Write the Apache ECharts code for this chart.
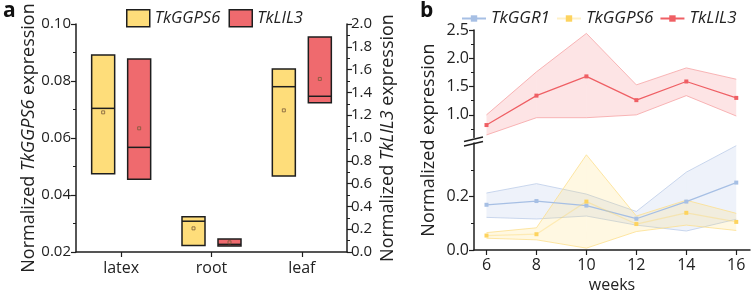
<!DOCTYPE html>
<html>
<head>
<meta charset="utf-8">
<script src="https://cdn.jsdelivr.net/npm/echarts@6/dist/echarts.min.js"></script>
<style>
  html, body { margin: 0; padding: 0; background: #fff; }
  #main { width: 752px; height: 294px; }
</style>
</head>
<body>
<div id="main"></div>
<script>
// ---- panel a : boxes (q1, median, q3, mean) ----
const tissues = ['latex', 'root', 'leaf'];
const ggps6Box = [
  [0.0475, 0.0704, 0.0891, 0.0690],
  [0.0223, 0.0308, 0.0324, 0.0283],
  [0.0467, 0.0780, 0.0842, 0.0697]
];
const lil3Box = [
  [0.638, 0.918, 1.693, 1.085],
  [0.053, 0.067, 0.114, 0.085],
  [1.310, 1.366, 1.886, 1.518]
];

// ---- panel b : time course ----
const weeks = [6, 8, 10, 12, 14, 16];
const ggr1Mean = [0.169, 0.183, 0.166, 0.117, 0.181, 0.252];
const ggr1Low = [0.122, 0.116, 0.127, 0.093, 0.071, 0.115];
const ggr1High = [0.213, 0.248, 0.209, 0.144, 0.291, 0.390];
const ggps6Mean = [0.054, 0.059, 0.181, 0.097, 0.139, 0.105];
const ggps6Low = [0.044, 0.038, 0.007, 0.069, 0.093, 0.073];
const ggps6High = [0.065, 0.083, 0.356, 0.127, 0.186, 0.137];
const lil3Mean = [0.82, 1.34, 1.68, 1.26, 1.59, 1.30];
const lil3Low = [0.645, 0.95, 0.95, 1.00, 1.34, 0.98];
const lil3High = [1.00, 1.76, 2.44, 1.53, 1.83, 1.63];

const FONT = '"Open Sans", "DejaVu Sans", sans-serif';
const INK = '#1e1e1e';

const chart = echarts.init(document.getElementById('main'));

// box drawn through the axis scale
function boxRender(offset, fill) {
  return function (params, api) {
    const i = api.value(0);
    const lo = api.coord([i, api.value(1)]);
    const med = api.coord([i, api.value(2)]);
    const hi = api.coord([i, api.value(3)]);
    const mean = api.coord([i, api.value(4)]);
    const w = 23;
    const x = lo[0] + offset - w / 2;
    return {
      type: 'group',
      children: [
        { type: 'rect', shape: { x: x, y: hi[1], width: w, height: lo[1] - hi[1] },
          style: { fill: fill, stroke: INK, lineWidth: 1.5 } },
        { type: 'line', shape: { x1: x, y1: med[1], x2: x + w, y2: med[1] },
          style: { stroke: INK, lineWidth: 1.5 } },
        { type: 'rect', shape: { x: lo[0] + offset - 1.5, y: mean[1] - 1.5, width: 3, height: 3 },
          style: { fill: 'none', stroke: '#7a5a3a', lineWidth: 0.8 } }
      ]
    };
  };
}

// one band segment between two neighbouring weeks
function bandRender(edge, fill) {
  return function (params, api) {
    const a0 = api.coord([api.value(0), api.value(1)]);
    const b0 = api.coord([api.value(0), api.value(2)]);
    const a1 = api.coord([api.value(3), api.value(4)]);
    const b1 = api.coord([api.value(3), api.value(5)]);
    return {
      type: 'group',
      children: [
        { type: 'polygon', shape: { points: [a0, a1, b1, b0] }, style: { fill: fill } },
        { type: 'line', shape: { x1: a0[0], y1: a0[1], x2: a1[0], y2: a1[1] },
          style: { stroke: edge, lineWidth: 0.8 } },
        { type: 'line', shape: { x1: b0[0], y1: b0[1], x2: b1[0], y2: b1[1] },
          style: { stroke: edge, lineWidth: 0.8 } }
      ]
    };
  };
}

const pair = (ys) => weeks.map((w, i) => [w, ys[i]]);
const segments = (low, high) => weeks.slice(0, -1).map((w, i) =>
  [w, low[i], high[i], weeks[i + 1], low[i + 1], high[i + 1]]);

function bandSeries(name, low, high, mean, xi, yi, line, edge, fill, lineOpacity) {
  return [
    { name: name + ' band', type: 'custom', xAxisIndex: xi, yAxisIndex: yi, silent: true,
      renderItem: bandRender(edge, fill), encode: { x: [0, 3], y: [1, 2, 4, 5] },
      data: segments(low, high), z: 2 },
    { name: name, type: 'line', xAxisIndex: xi, yAxisIndex: yi,
      data: pair(mean), symbol: 'rect', symbolSize: 4,
      itemStyle: { color: line },
      lineStyle: { color: line, width: 1.2, opacity: lineOpacity }, z: 5 }
  ];
}

const axisLine = { show: true, lineStyle: { color: INK, width: 1.5 } };
const tick = { show: true, length: 5, lineStyle: { color: INK, width: 1.2 } };
const minor = { show: true, splitNumber: 2, length: 3, lineStyle: { color: INK, width: 1 } };
const lab = { fontFamily: FONT, fontSize: 15, color: '#222' };
const nameStyle = { fontFamily: FONT, fontSize: 18, color: '#222',
  rich: { i: { fontFamily: FONT, fontSize: 18, fontStyle: 'italic', color: '#222' } } };

const option = {
  animation: false,
  backgroundColor: '#fff',
  graphic: [
    { type: 'text', left: 3, top: 1, style: { text: 'a', font: 'bold 21px ' + FONT, fill: '#111' } },
    { type: 'text', left: 420, top: 1, style: { text: 'b', font: 'bold 21px ' + FONT, fill: '#111' } },
    { type: 'text', x: 429, y: 140, rotation: Math.PI / 2,
      style: { text: 'Normalized expression', font: '18px ' + FONT, fill: '#222',
               textAlign: 'center', textVerticalAlign: 'middle' } },
    // axis break marks
    { type: 'line', shape: { x1: 464, y1: 141.5, x2: 483, y2: 137 }, style: { stroke: INK, lineWidth: 1.3 } },
    { type: 'line', shape: { x1: 464, y1: 146, x2: 483, y2: 141.5 }, style: { stroke: INK, lineWidth: 1.3 } }
  ],
  legend: [
    {
      left: 121, top: 4, itemWidth: 23, itemHeight: 17, itemGap: 4,
      textStyle: { fontFamily: FONT, fontSize: 16.5, fontStyle: 'italic', color: '#222' },
      data: [
        { name: 'TkGGPS6 ', icon: 'rect', itemStyle: { color: '#fedd7a', borderColor: INK, borderWidth: 1.5 } },
        { name: 'TkLIL3 ', icon: 'rect', itemStyle: { color: '#ef6a6e', borderColor: INK, borderWidth: 1.5 } }
      ]
    },
    {
      left: 456, top: 5, itemWidth: 24, itemHeight: 8, itemGap: 6,
      textStyle: { fontFamily: FONT, fontSize: 17, fontStyle: 'italic', color: '#222' },
      data: ['TkGGR1', 'TkGGPS6', 'TkLIL3']
    }
  ],
  grid: [
    { left: 76, top: 24, width: 271, height: 228 },
    { left: 474, top: 30, width: 276, height: 107.5 },
    { left: 474, top: 143, width: 276, height: 109 }
  ],
  xAxis: [
    { type: 'category', gridIndex: 0, data: tissues, boundaryGap: true,
      axisLine: axisLine, axisTick: Object.assign({}, tick, { alignWithLabel: true }),
      axisLabel: Object.assign({}, lab, { fontSize: 16, margin: 8 }) },
    { type: 'value', gridIndex: 1, min: 5.5, max: 16.55, show: false },
    { type: 'value', gridIndex: 2, min: 5.5, max: 16.55,
      axisLine: axisLine, splitLine: { show: false },
      axisTick: Object.assign({}, tick, { customValues: weeks }),
      axisLabel: Object.assign({}, lab, { fontSize: 16, margin: 7, customValues: weeks }),
      name: 'weeks', nameLocation: 'middle', nameGap: 27,
      nameTextStyle: { fontFamily: FONT, fontSize: 16, color: '#222' } }
  ],
  yAxis: [
    { type: 'value', gridIndex: 0, position: 'left', min: 0.02, max: 0.10, interval: 0.02,
      axisLine: axisLine, axisTick: tick, minorTick: minor, splitLine: { show: false },
      axisLabel: Object.assign({}, lab, { margin: 5, formatter: (v) => v.toFixed(2) }),
      name: 'Normalized {i|TkGGPS6} expression', nameLocation: 'middle', nameGap: 38,
      nameTextStyle: nameStyle },
    { type: 'value', gridIndex: 0, position: 'right', min: 0, max: 2.0, interval: 0.2,
      axisLine: axisLine, axisTick: tick, minorTick: minor, splitLine: { show: false },
      axisLabel: Object.assign({}, lab, { margin: 4, formatter: (v) => v.toFixed(1) }),
      name: 'Normalized {i|TkLIL3} expression', nameLocation: 'middle', nameGap: 32,
      nameTextStyle: nameStyle },
    { type: 'value', gridIndex: 1, position: 'left', min: 0.6, max: 2.5,
      axisLine: axisLine, splitLine: { show: false },
      axisTick: Object.assign({}, tick, { customValues: [1.0, 1.5, 2.0, 2.5] }),
      axisLabel: Object.assign({}, lab, { fontSize: 16, margin: 5, customValues: [1.0, 1.5, 2.0, 2.5],
        formatter: (v) => v.toFixed(1) }) },
    { type: 'value', gridIndex: 1, position: 'left', min: 0.6, max: 2.5,
      axisLine: { show: false }, splitLine: { show: false }, axisLabel: { show: false },
      axisTick: { show: true, length: 3, lineStyle: { color: INK, width: 1 },
        customValues: [0.75, 1.25, 1.75, 2.25] } },
    { type: 'value', gridIndex: 2, position: 'left', min: 0, max: 0.4, interval: 0.2,
      axisLine: axisLine, splitLine: { show: false }, minorTick: minor,
      axisTick: Object.assign({}, tick, { customValues: [0, 0.2] }),
      axisLabel: Object.assign({}, lab, { fontSize: 16, margin: 5, customValues: [0, 0.2],
        formatter: (v) => v.toFixed(1) }) }
  ],
  series: [
    { name: 'TkGGPS6 ', type: 'custom', xAxisIndex: 0, yAxisIndex: 0,
      itemStyle: { color: '#fedd7a' },
      renderItem: boxRender(-18, '#fedd7a'),
      encode: { x: 0, y: [1, 2, 3, 4] },
      data: ggps6Box.map((b, i) => [i].concat(b)) },
    { name: 'TkLIL3 ', type: 'custom', xAxisIndex: 0, yAxisIndex: 1,
      itemStyle: { color: '#ef6a6e' },
      renderItem: boxRender(18, '#ef6a6e'),
      encode: { x: 0, y: [1, 2, 3, 4] },
      data: lil3Box.map((b, i) => [i].concat(b)) }
  ]
    .concat(bandSeries('TkGGR1', ggr1Low, ggr1High, ggr1Mean, 2, 4,
      '#a6bfe4', '#bccde9', 'rgba(170,192,230,0.2)', 1))
    .concat(bandSeries('TkGGPS6', ggps6Low, ggps6High, ggps6Mean, 2, 4,
      '#fdd35e', '#fde08e', 'rgba(255,222,110,0.2)', 0.35))
    .concat(bandSeries('TkLIL3', lil3Low, lil3High, lil3Mean, 1, 2,
      '#ef5f64', '#f6a3a5', 'rgba(243,120,124,0.2)', 1))
};

chart.setOption(option);
window.onresize = chart.resize;
</script>
</body>
</html>
